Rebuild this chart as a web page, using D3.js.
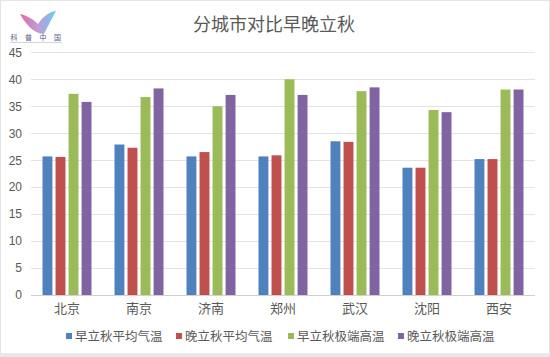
<!DOCTYPE html>
<html><head><meta charset="utf-8">
<script src="https://cdn.jsdelivr.net/npm/d3@7"></script>
<style>
html,body{margin:0;padding:0;background:#fff;}
svg{display:block;font-family:"Noto Sans CJK SC","Microsoft YaHei",sans-serif;}
</style></head>
<body><svg id="c" width="550" height="357"></svg>
<script>
const title = "分城市对比早晚立秋";
const cities = ["北京","南京","济南","郑州","武汉","沈阳","西安"];
const seriesNames = ["早立秋平均气温","晚立秋平均气温","早立秋极端高温","晚立秋极端高温"];
const earlyAvg = [25.7, 27.9, 25.7, 25.7, 28.5, 23.6, 25.2];
const lateAvg  = [25.6, 27.3, 26.5, 25.9, 28.4, 23.6, 25.2];
const earlyMax = [37.3, 36.7, 35.0, 40.0, 37.8, 34.3, 38.1];
const lateMax  = [35.8, 38.3, 37.1, 37.1, 38.5, 33.9, 38.1];
const yTicks = [0,5,10,15,20,25,30,35,40,45];
const colors = ["#4F81BD","#C0504D","#9BBB59","#8064A2"];
const logoChars = ["科","普","中","国"];

(function(){
const seriesVals = [earlyAvg, lateAvg, earlyMax, lateMax];
const svg = d3.select("#c");

// frame
svg.append("rect").attr("x",0.5).attr("y",0.5).attr("width",549).attr("height",356)
  .attr("fill","#fff").attr("stroke","#e4e4e4");
svg.append("rect").attr("x",0).attr("y",353).attr("width",550).attr("height",4).attr("fill","#e8e8e8");

const pL = 31, pR = 535, pT = 52.3, pB = 295;
const x = d3.scaleBand().domain(cities).range([pL,pR]).paddingInner(0).paddingOuter(0);
const y = d3.scaleLinear().domain([0,45]).range([pB,pT]);
const xs = d3.scaleBand().domain(d3.range(4)).range([0,49]).paddingInner(0.24);

// gridlines
svg.append("g").selectAll("line").data(yTicks).join("line")
  .attr("x1",pL).attr("x2",pR)
  .attr("y1",d=>Math.round(y(d))+0.5).attr("y2",d=>Math.round(y(d))+0.5)
  .attr("stroke",d=>d===0?"#d0d0d0":"#e3e3e3").attr("stroke-width",1.2);

// y axis labels
const yAxis = d3.axisLeft(y).tickValues(yTicks).tickSize(0).tickPadding(0);
const ga = svg.append("g").attr("transform",`translate(${pL-9},0)`).call(yAxis);
ga.select(".domain").remove();
ga.selectAll("text").attr("fill","#595959").style("font-size","12px")
  .style("font-family","'Liberation Sans',Arial,sans-serif");

// bars
const groups = svg.append("g").selectAll("g").data(cities).join("g")
  .attr("transform",d=>`translate(${x(d)+x.bandwidth()/2-24.5},0)`);
groups.selectAll("rect").data((c,i)=>seriesVals.map((s,k)=>({k,v:s[i]}))).join("rect")
  .attr("x",d=>xs(d.k)).attr("width",xs.bandwidth())
  .attr("y",d=>y(d.v)).attr("height",d=>y(0)-y(d.v))
  .attr("fill",d=>colors[d.k]);

// x axis labels
const xAxis = d3.axisBottom(x).tickSize(0).tickPadding(0);
const gx = svg.append("g").attr("transform",`translate(0,${pB+9})`).call(xAxis);
gx.select(".domain").remove();
gx.selectAll("text").attr("fill","#595959").style("font-size","13px")
  .style("font-family","'Noto Sans CJK SC',sans-serif");

// legend
const legX = [66, 176, 288, 398];
const lg = svg.append("g").selectAll("g").data(seriesNames).join("g")
  .attr("transform",(d,i)=>`translate(${legX[i]},336)`);
lg.append("rect").attr("x",0).attr("y",-3).attr("width",6).attr("height",6).attr("fill",(d,i)=>colors[i]);
lg.append("text").attr("x",9).attr("dy","0.36em").text(d=>d)
  .attr("fill","#595959").style("font-size","12.5px");

// title
svg.append("text").attr("x",274).attr("y",25).attr("text-anchor","middle").attr("dy","0.36em")
  .text(title).attr("fill","#595959").style("font-size","18px");

// logo
const defs = svg.append("defs");
const gr = defs.append("linearGradient").attr("id","lg1").attr("x1","0").attr("y1","0").attr("x2","1").attr("y2","0");
gr.append("stop").attr("offset","0").attr("stop-color","#d9508f");
gr.append("stop").attr("offset","0.5").attr("stop-color","#b78ad0");
gr.append("stop").attr("offset","1").attr("stop-color","#4fc3e8");
svg.append("path").attr("d","M20,14 C28,16 34,20 38,24 C42,18 48,12 56,11 C52,18 48,26 44,34 C36,34 28,28 20,14 Z")
  .attr("fill","url(#lg1)").attr("opacity",0.85);
svg.append("g").selectAll("text").data(logoChars).join("text")
  .attr("x",(d,i)=>14+i*14.5).attr("y",40).attr("text-anchor","middle")
  .text(d=>d).attr("fill","#5a5a8a").style("font-size","7px");
svg.append("line").attr("x1",10).attr("x2",62).attr("y1",42.5).attr("y2",42.5)
  .attr("stroke","#c9c9d9").attr("stroke-width",0.8);
})();
</script></body></html>
